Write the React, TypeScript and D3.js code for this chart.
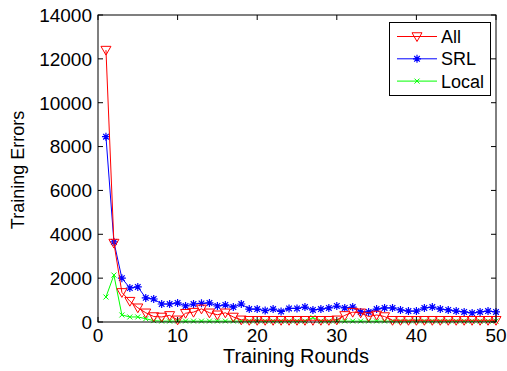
import React from 'react';
import * as d3 from 'd3';

// training rounds 1..50
const rounds = d3.range(1, 51);

const allErrors = [
  12400, 3600, 1350, 950, 650, 420, 250, 230, 300, 100,
  400, 450, 600, 420, 330, 420, 230, 100, 80, 80,
  80, 80, 80, 80, 80, 80, 80, 80, 80, 100,
  300, 450, 420, 250, 320, 250, 80, 80, 80, 80,
  80, 80, 80, 80, 80, 80, 80, 80, 80, 80,
];

const srlErrors = [
  8450, 3650, 2000, 1550, 1600, 1100, 1050, 820, 820, 870,
  730, 820, 850, 870, 730, 780, 680, 820, 590, 590,
  520, 590, 480, 620, 620, 680, 550, 590, 640, 730,
  640, 680, 460, 460, 590, 640, 640, 550, 500, 500,
  640, 680, 590, 550, 500, 460, 410, 460, 500, 460,
];

const localErrors = [
  1140, 2140, 320, 230, 230, 150, 60, 40, 40, 40,
  40, 40, 40, 40, 40, 40, 40, 40, 40, 40,
  40, 40, 40, 40, 40, 40, 200, 40, 40, 40,
  40, 40, 40, 40, 40, 40, 40, 40, 40, 40,
  40, 40, 40, 40, 40, 40, 40, 40, 40, 40,
];

const xTicks = [0, 10, 20, 30, 40, 50];
const yTicks = [0, 2000, 4000, 6000, 8000, 10000, 12000, 14000];

const seriesNames = ['All', 'SRL', 'Local'];
const seriesColors = ['#ff0000', '#0000ff', '#00ff00'];

const W = 507;
const H = 371;
const margin = { top: 15, right: 11, bottom: 49, left: 98 };
const font = 'Arial, "Liberation Sans", sans-serif';

const Marker = ({ kind, x, y, color }: { kind: string; x: number; y: number; color: string }) => {
  if (kind === 'All') {
    const s = 5;
    return (
      <path
        d={`M${x - s},${y - s * 0.75}L${x + s},${y - s * 0.75}L${x},${y + s}Z`}
        fill="none"
        stroke={color}
        strokeWidth={1}
      />
    );
  }
  if (kind === 'SRL') {
    const s = 4;
    const d = s * 0.7;
    return (
      <path
        d={`M${x - s},${y}L${x + s},${y}M${x},${y - s}L${x},${y + s}M${x - d},${y - d}L${x + d},${y + d}M${x - d},${y + d}L${x + d},${y - d}`}
        stroke={color}
        strokeWidth={1.2}
      />
    );
  }
  const s = 2.5;
  return (
    <path
      d={`M${x - s},${y - s}L${x + s},${y + s}M${x - s},${y + s}L${x + s},${y - s}`}
      stroke={color}
      strokeWidth={1}
    />
  );
};

export default function App() {
  const x = d3.scaleLinear().domain([0, 50]).range([margin.left, W - margin.right]);
  const y = d3.scaleLinear().domain([0, 14000]).range([H - margin.bottom, margin.top]);

  const data = [allErrors, srlErrors, localErrors];
  const line = d3
    .line<number>()
    .x((_, i) => x(rounds[i]))
    .y((d) => y(d));

  const x0 = x(0);
  const x1 = x(50);
  const y0 = y(0);
  const y1 = y(14000);
  const tick = 5;

  return (
    <svg
      width={W}
      height={H}
      style={{ position: 'absolute', left: 0, top: 0, background: '#fff' }}
      fontFamily={font}
    >
      {/* series, drawn in reverse so All sits on top */}
      {data
        .map((vals, si) => (
          <g key={seriesNames[si]}>
            <path d={line(vals) || ''} fill="none" stroke={seriesColors[si]} strokeWidth={1} />
            {vals.map((v, i) => (
              <Marker key={i} kind={seriesNames[si]} x={x(rounds[i])} y={y(v)} color={seriesColors[si]} />
            ))}
          </g>
        ))
        .reverse()}

      {/* axes box */}
      <rect x={x0} y={y1} width={x1 - x0} height={y0 - y1} fill="none" stroke="#000" strokeWidth={1} />
      {xTicks.map((t) => (
        <g key={'x' + t}>
          <line x1={x(t)} x2={x(t)} y1={y0} y2={y0 - tick} stroke="#000" />
          <line x1={x(t)} x2={x(t)} y1={y1} y2={y1 + tick} stroke="#000" />
          <text x={x(t)} y={342} textAnchor="middle" fontSize={19} fill="#000">
            {t}
          </text>
        </g>
      ))}
      {yTicks.map((t) => (
        <g key={'y' + t}>
          <line x1={x0} x2={x0 + tick} y1={y(t)} y2={y(t)} stroke="#000" />
          <line x1={x1} x2={x1 - tick} y1={y(t)} y2={y(t)} stroke="#000" />
          <text x={x0 - 6} y={y(t)} dy="0.36em" textAnchor="end" fontSize={19} fill="#000">
            {t}
          </text>
        </g>
      ))}

      <text x={296} y={363} textAnchor="middle" fontSize={20} fill="#000">
        Training Rounds
      </text>
      <text
        transform={`translate(24, 170) rotate(-90)`}
        textAnchor="middle"
        fontSize={18}
        fill="#000"
      >
        Training Errors
      </text>

      {/* legend */}
      <g>
        <rect x={389.5} y={22.5} width={101} height={73} fill="#fff" stroke="#000" strokeWidth={1} />
        {seriesNames.map((name, i) => {
          const ly = 36.5 + i * 22.3;
          return (
            <g key={name}>
              <line x1={397} x2={437} y1={ly} y2={ly} stroke={seriesColors[i]} strokeWidth={1} />
              <Marker kind={name} x={417} y={ly} color={seriesColors[i]} />
              <text x={441} y={ly} dy="0.36em" fontSize={18} fill="#000">
                {name}
              </text>
            </g>
          );
        })}
      </g>
    </svg>
  );
}
